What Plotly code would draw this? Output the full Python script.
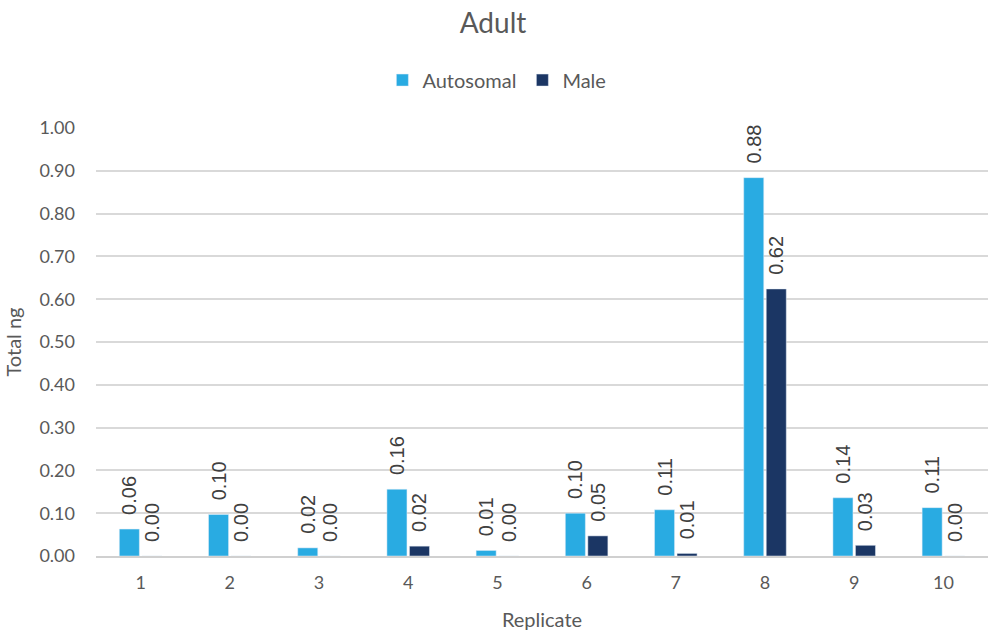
import plotly.graph_objects as go

replicates = ["1", "2", "3", "4", "5", "6", "7", "8", "9", "10"]
autosomal = [0.063, 0.097, 0.019, 0.156, 0.013, 0.100, 0.108, 0.884, 0.136, 0.113]
male = [0.0, 0.0, 0.0, 0.023, 0.0, 0.047, 0.006, 0.624, 0.025, 0.0]

label_font = dict(family="Liberation Sans, Arial, sans-serif", size=20, color="#404040")
# leading non-breaking spaces lift the rotated value labels off the bar tops
label_fmt = "\u00a0\u00a0%{y:.2f}"

fig = go.Figure()
fig.add_trace(go.Bar(
    name="Autosomal", x=replicates, y=autosomal, marker_color="#29ABE2",
    texttemplate=label_fmt, textposition="outside", constraintext="none",
    textangle=-90, textfont=label_font, cliponaxis=False,
))
fig.add_trace(go.Bar(
    name="Male", x=replicates, y=male, marker_color="#1B3664",
    texttemplate=label_fmt, textposition="outside", constraintext="none",
    textangle=-90, textfont=label_font, cliponaxis=False,
))

fig.update_layout(
    width=992, height=635,
    margin=dict(l=96, r=4, t=128, b=79),
    paper_bgcolor="white", plot_bgcolor="white",
    font=dict(family="Lato, Open Sans, sans-serif", color="#595959", size=18),
    title=dict(text="Adult", x=(493 / 992), xanchor="center", xref="container",
               y=(1 - 23 / 635), yanchor="middle",
               font=dict(size=28, color="#595959")),
    barmode="group", bargap=0.495, bargroupgap=0.11,
    legend=dict(orientation="h", x=0.478, xanchor="center", y=1.112, yanchor="middle",
                font=dict(size=20, color="#595959"), itemwidth=30, traceorder="normal",
                entrywidth=95),
    xaxis=dict(title=dict(text="Replicate", font=dict(size=20), standoff=21),
               tickfont=dict(size=18), showgrid=False, showline=True,
               linecolor="#d0d0d0", linewidth=1.5, ticks="", ticklabelstandoff=10),
    yaxis=dict(title=dict(text="Total ng", font=dict(size=20), standoff=12),
               range=[0, 1.0], dtick=0.1, tickformat=".2f", tickfont=dict(size=18),
               showgrid=True, gridcolor="#d9d9d9", gridwidth=1.5, zeroline=False,
               ticks="", ticklabelstandoff=20),
)

fig.write_html("out.html")
